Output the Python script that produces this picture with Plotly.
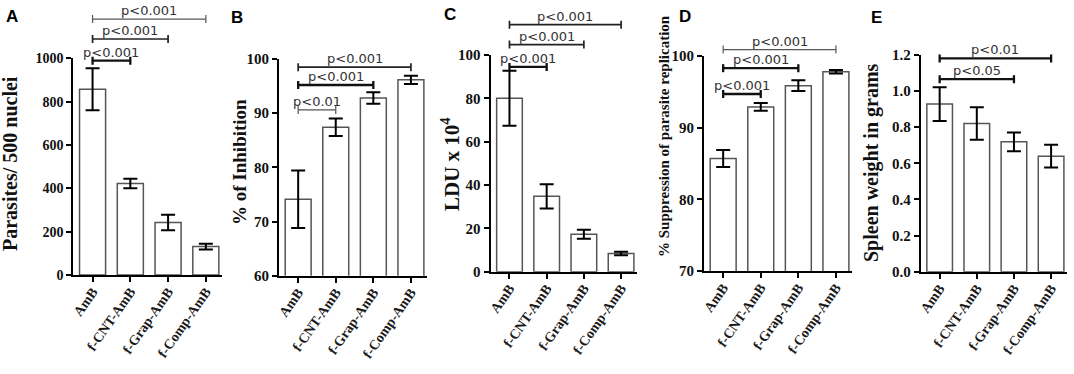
import plotly.graph_objects as go

# ---------------- data ----------------
categories = ["AmB", "f-CNT-AmB", "f-Grap-AmB", "f-Comp-AmB"]

parasites = [857, 422, 242, 131]
parasites_err = [97, 22, 36, 13]

inhibition = [74.1, 87.4, 92.8, 96.15]
inhibition_err = [5.3, 1.6, 1.05, 0.75]

ldu = [80.0, 34.8, 17.3, 8.4]
ldu_err = [12.7, 5.6, 2.1, 0.8]

suppression = [85.7, 92.9, 95.85, 97.8]
suppression_err = [1.2, 0.55, 0.75, 0.25]

spleen = [0.928, 0.821, 0.719, 0.640]
spleen_err = [0.094, 0.090, 0.052, 0.063]

# significance brackets: (from index, to index, height in data units, label)
brackets_A = [(0, 3, 1181, "p<0.001"), (0, 2, 1089, "p<0.001"), (0, 1, 989, "p<0.001")]
brackets_B = [(0, 3, 98.5, "p<0.001"), (0, 2, 95.2, "p<0.001"), (0, 1, 90.6, "p<0.01")]
brackets_C = [(0, 3, 114, "p<0.001"), (0, 2, 104.8, "p<0.001"), (0, 1, 94.5, "p<0.001")]
brackets_D = [(0, 3, 100.9, "p<0.001"), (0, 2, 98.3, "p<0.001"), (0, 1, 94.7, "p<0.001")]
brackets_E = [(0, 3, 1.181, "p<0.01"), (0, 2, 1.066, "p<0.05")]

# ---------------- layout config ----------------
W, H = 1074, 374

panels = [
    dict(letter="A", title="Parasites/ 500 nuclei", vals=parasites, err=parasites_err,
         brackets=brackets_A, styles=["thin", "mid", "thick"],
         xpx=(73.3, 221.7), ypx=(275, 58.3), yrange=(0, 1000), dtick=200, fmt="d", tick_size=14,
         title_x=10, title_y=164, title_size=20, letter_x=4, letter_y=5),
    dict(letter="B", title="% of Inhibition", vals=inhibition, err=inhibition_err,
         brackets=brackets_B, styles=["mid", "thick", "thin"],
         xpx=(279, 426.7), ypx=(275.7, 59), yrange=(60, 100), dtick=10, fmt="d", tick_size=15,
         title_x=240, title_y=162, title_size=19, letter_x=229, letter_y=6),
    dict(letter="C", title="LDU x 10<sup>4</sup>", vals=ldu, err=ldu_err,
         brackets=brackets_C, styles=["mid", "mid", "thick"],
         xpx=(490.5, 636.7), ypx=(271.7, 55), yrange=(0, 100), dtick=20, fmt="d", tick_size=15,
         title_x=450, title_y=164, title_size=21, letter_x=442, letter_y=3),
    dict(letter="D", title="% Suppression of parasite replication", vals=suppression, err=suppression_err,
         brackets=brackets_D, styles=["thin", "thick", "thick"],
         xpx=(704, 851.7), ypx=(271, 56), yrange=(70, 100), dtick=10, fmt="d", tick_size=15,
         title_x=664, title_y=136, title_size=15, letter_x=677, letter_y=5),
    dict(letter="E", title="Spleen weight in grams", vals=spleen, err=spleen_err,
         brackets=brackets_E, styles=["thick", "thick"],
         xpx=(920.7, 1066.7), ypx=(271.7, 55), yrange=(0, 1.2), dtick=0.2, fmt=".1f", tick_size=15,
         title_x=871, title_y=163, title_size=20, letter_x=869, letter_y=6),
]

line_styles = {
    "thin": dict(color="#555555", width=1.2),
    "mid": dict(color="#222222", width=1.7),
    "thick": dict(color="#111111", width=2.3),
}

serif = "Liberation Serif, Times New Roman, serif"
psans = "DejaVu Sans, Arial, sans-serif"
sans = "Liberation Sans, Arial, sans-serif"

fig = go.Figure()
shapes = []
annotations = []

for k, p in enumerate(panels):
    n = "" if k == 0 else str(k + 1)
    xa, ya = "x" + n, "y" + n
    fig.add_trace(go.Bar(
        x=categories, y=p["vals"], xaxis=xa, yaxis=ya,
        marker=dict(color="white", line=dict(color="#555555", width=1.5)),
        error_y=dict(type="data", array=p["err"], color="black", thickness=2, width=7),
        showlegend=False, hoverinfo="skip",
    ))
    xd = [p["xpx"][0] / W, p["xpx"][1] / W]
    yd = [1 - p["ypx"][0] / H, 1 - p["ypx"][1] / H]
    dom_h_px = p["ypx"][0] - p["ypx"][1]
    fig.layout["xaxis" + n] = dict(
        domain=xd, anchor=ya, range=[-0.51, 3.42], type="category", automargin=False,
        showline=True, linecolor="black", linewidth=2,
        ticks="outside", ticklen=5, tickwidth=2, tickcolor="black",
        tickangle=-55, ticklabelstandoff=-4,
        tickfont=dict(family=serif, size=14, color="#1a1a1a", weight="bold"),
        showgrid=False, zeroline=False, fixedrange=True,
    )
    fig.layout["yaxis" + n] = dict(
        domain=yd, anchor=xa, range=list(p["yrange"]), dtick=p["dtick"], tick0=p["yrange"][0],
        tickformat=p["fmt"], automargin=False,
        showline=True, linecolor="black", linewidth=2,
        ticks="outside", ticklen=5, tickwidth=2, tickcolor="black",
        tickfont=dict(family=serif, size=p["tick_size"], color="#111", weight="bold"),
        showgrid=False, zeroline=False, fixedrange=True,
    )
    r0, r1 = p["yrange"]
    cap = 4.0 / dom_h_px
    for (i, j, yv, label), st in zip(p["brackets"], p["styles"]):
        yf = (yv - r0) / (r1 - r0)
        ls = line_styles[st]
        shapes.append(dict(type="line", xref=xa, yref=ya + " domain", x0=i, x1=j, y0=yf, y1=yf, line=ls))
        for xx in (i, j):
            shapes.append(dict(type="line", xref=xa, yref=ya + " domain", x0=xx, x1=xx,
                               y0=yf - cap, y1=yf + cap, line=ls))
        annotations.append(dict(
            x=(i + j) / 2, y=yf, xref=xa, yref=ya + " domain", text=label.replace("<", "&lt;"),
            showarrow=False, xanchor="center", yanchor="bottom", yshift=-1,
            font=dict(family=psans, size=13, color="#333333"),
        ))
    # axis title
    annotations.append(dict(
        x=p["title_x"] / W, y=1 - p["title_y"] / H, xref="paper", yref="paper",
        text=p["title"], textangle=-90, showarrow=False, xanchor="center", yanchor="middle",
        font=dict(family=serif, size=p["title_size"], color="#111", weight="bold"),
    ))
    # panel letter
    annotations.append(dict(
        x=p["letter_x"] / W, y=1 - p["letter_y"] / H, xref="paper", yref="paper",
        text="<b>" + p["letter"] + "</b>", showarrow=False, xanchor="left", yanchor="top",
        font=dict(family=sans, size=17, color="black"),
    ))

fig.update_layout(
    width=W, height=H, margin=dict(l=0, r=0, t=0, b=0, autoexpand=False),
    paper_bgcolor="white", plot_bgcolor="white",
    bargap=0.31, shapes=shapes, annotations=annotations,
)

fig.write_html("out.html", config=dict(displayModeBar=False),
               post_script="document.body.style.margin='0px';document.body.style.overflow='hidden';")
